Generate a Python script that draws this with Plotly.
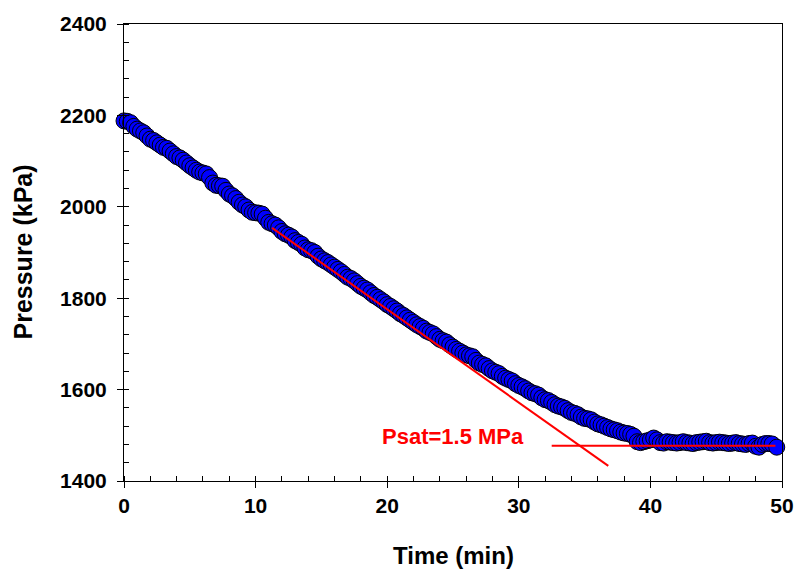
import plotly.graph_objects as go

time_min = [
    0.0, 0.25, 0.5, 0.75, 1.0, 1.25, 1.5, 1.75, 2.0, 2.25, 2.5, 2.75,
    3.0, 3.25, 3.5, 3.75, 4.0, 4.25, 4.5, 4.75, 5.0, 5.25, 5.5, 5.75,
    6.0, 6.25, 6.5, 6.75, 7.0, 7.25, 7.5, 7.75, 8.0, 8.25, 8.5, 8.75,
    9.0, 9.25, 9.5, 9.75, 10.0, 10.25, 10.5, 10.75, 11.0, 11.25, 11.5, 11.75,
    12.0, 12.25, 12.5, 12.75, 13.0, 13.25, 13.5, 13.75, 14.0, 14.25, 14.5, 14.75,
    15.0, 15.25, 15.5, 15.75, 16.0, 16.25, 16.5, 16.75, 17.0, 17.25, 17.5, 17.75,
    18.0, 18.25, 18.5, 18.75, 19.0, 19.25, 19.5, 19.75, 20.0, 20.25, 20.5, 20.75,
    21.0, 21.25, 21.5, 21.75, 22.0, 22.25, 22.5, 22.75, 23.0, 23.25, 23.5, 23.75,
    24.0, 24.25, 24.5, 24.75, 25.0, 25.25, 25.5, 25.75, 26.0, 26.25, 26.5, 26.75,
    27.0, 27.25, 27.5, 27.75, 28.0, 28.25, 28.5, 28.75, 29.0, 29.25, 29.5, 29.75,
    30.0, 30.25, 30.5, 30.75, 31.0, 31.25, 31.5, 31.75, 32.0, 32.25, 32.5, 32.75,
    33.0, 33.25, 33.5, 33.75, 34.0, 34.25, 34.5, 34.75, 35.0, 35.25, 35.5, 35.75,
    36.0, 36.25, 36.5, 36.75, 37.0, 37.25, 37.5, 37.75, 38.0, 38.25, 38.5, 38.75,
    39.0, 39.25, 39.5, 39.75, 40.0, 40.25, 40.5, 40.75, 41.0, 41.25, 41.5, 41.75,
    42.0, 42.25, 42.5, 42.75, 43.0, 43.25, 43.5, 43.75, 44.0, 44.25, 44.5, 44.75,
    45.0, 45.25, 45.5, 45.75, 46.0, 46.25, 46.5, 46.75, 47.0, 47.25, 47.5, 47.75,
    48.0, 48.25, 48.5, 48.75, 49.0, 49.25, 49.6,
]

pressure_kpa = [
    2188, 2187, 2184, 2176, 2170, 2166, 2162, 2155, 2148, 2145, 2140, 2135,
    2130, 2128, 2122, 2116, 2110, 2107, 2102, 2096, 2090, 2085, 2080, 2076,
    2074, 2072, 2064, 2052, 2047, 2046, 2045, 2036, 2028, 2024, 2018, 2010,
    2004, 2000, 1993, 1988, 1987, 1986, 1984, 1975, 1966, 1963, 1960, 1954,
    1946, 1941, 1938, 1934, 1926, 1922, 1918, 1910, 1906, 1904, 1900, 1892,
    1886, 1882, 1878, 1873, 1868, 1863, 1858, 1852, 1846, 1843, 1838, 1832,
    1826, 1822, 1818, 1812, 1806, 1802, 1797, 1792, 1786, 1782, 1777, 1772,
    1766, 1762, 1757, 1752, 1747, 1742, 1738, 1734, 1728, 1725, 1722, 1716,
    1710, 1707, 1704, 1698, 1693, 1688, 1684, 1680, 1676, 1674, 1672, 1664,
    1658, 1655, 1652, 1646, 1641, 1638, 1635, 1629, 1625, 1622, 1619, 1613,
    1609, 1606, 1602, 1597, 1593, 1591, 1588, 1582, 1578, 1576, 1572, 1567,
    1564, 1562, 1559, 1554, 1550, 1548, 1545, 1540, 1537, 1536, 1534, 1529,
    1525, 1523, 1520, 1517, 1514, 1512, 1510, 1507, 1505, 1504, 1502, 1498,
    1486, 1484, 1486, 1488, 1490, 1494, 1490, 1484, 1483, 1486, 1485, 1484,
    1483, 1484, 1486, 1484, 1483, 1482, 1484, 1485, 1486, 1487, 1484, 1483,
    1484, 1485, 1484, 1483, 1482, 1483, 1484, 1482, 1481, 1480, 1482, 1483,
    1476, 1474, 1480, 1482, 1482, 1481, 1474,
]

# red guide lines
fit_time = [11.25, 36.8]
fit_pressure = [1954, 1433]
psat_time = [32.5, 49.5]
psat_pressure = [1477, 1477]

annot_text = "Psat=1.5 MPa"
annot_x = 25.0
annot_y = 1497

x_ticks = [0, 10, 20, 30, 40, 50]
y_ticks = [1400, 1600, 1800, 2000, 2200, 2400]
x_title = "Time (min)"
y_title = "Pressure (kPa)"

FONT = "Liberation Sans, Arial, sans-serif"

fig = go.Figure()
fig.add_trace(go.Scatter(
    x=time_min, y=pressure_kpa, mode="markers",
    marker=dict(size=16, color="#0000FF", line=dict(color="black", width=1)),
    showlegend=False, cliponaxis=False,
))
fig.add_trace(go.Scatter(
    x=fit_time, y=fit_pressure, mode="lines",
    line=dict(color="#FF0000", width=2), showlegend=False,
))
fig.add_trace(go.Scatter(
    x=psat_time, y=psat_pressure, mode="lines",
    line=dict(color="#FF0000", width=2), showlegend=False,
))

fig.add_annotation(
    x=annot_x, y=annot_y, xref="x", yref="y", text="<b>%s</b>" % annot_text,
    showarrow=False, font=dict(family=FONT, size=22, color="#FF0000"),
)
fig.add_annotation(
    x=0.5, y=0, xref="paper", yref="paper", text="<b>%s</b>" % x_title,
    showarrow=False, yanchor="middle", xanchor="center", yshift=-74,
    font=dict(family=FONT, size=24, color="black"),
)
fig.add_annotation(
    x=0, y=0.5, xref="paper", yref="paper", text="<b>%s</b>" % y_title,
    showarrow=False, textangle=-90, yanchor="middle", xanchor="center", xshift=-102,
    font=dict(family=FONT, size=25, color="black"),
)

fig.update_layout(
    width=796, height=571,
    margin=dict(l=124, r=14, t=24, b=90, autoexpand=False),
    paper_bgcolor="white", plot_bgcolor="white",
    font=dict(family=FONT, color="black"),
)
fig.update_xaxes(
    range=[0, 50], tickvals=x_ticks, ticktext=["<b>%d</b>" % v for v in x_ticks],
    tickfont=dict(family=FONT, size=21, color="black"),
    ticks="outside", ticklen=6, tickwidth=1, tickcolor="black",
    minor=dict(dtick=2, ticks="inside", ticklen=5, tickwidth=1, tickcolor="black", showgrid=False),
    showline=True, linecolor="black", linewidth=1, mirror=True,
    showgrid=False, zeroline=False, automargin=False,
)
fig.update_yaxes(
    range=[1400, 2400], tickvals=y_ticks, ticktext=["<b>%d</b>" % v for v in y_ticks],
    tickfont=dict(family=FONT, size=21, color="black"),
    ticks="outside", ticklen=6, tickwidth=1, tickcolor="black", ticklabelstandoff=6,
    minor=dict(dtick=40, ticks="inside", ticklen=5, tickwidth=1, tickcolor="black", showgrid=False),
    showline=True, linecolor="black", linewidth=1, mirror=True,
    showgrid=False, zeroline=False, automargin=False,
)

fig.write_html("out.html")
